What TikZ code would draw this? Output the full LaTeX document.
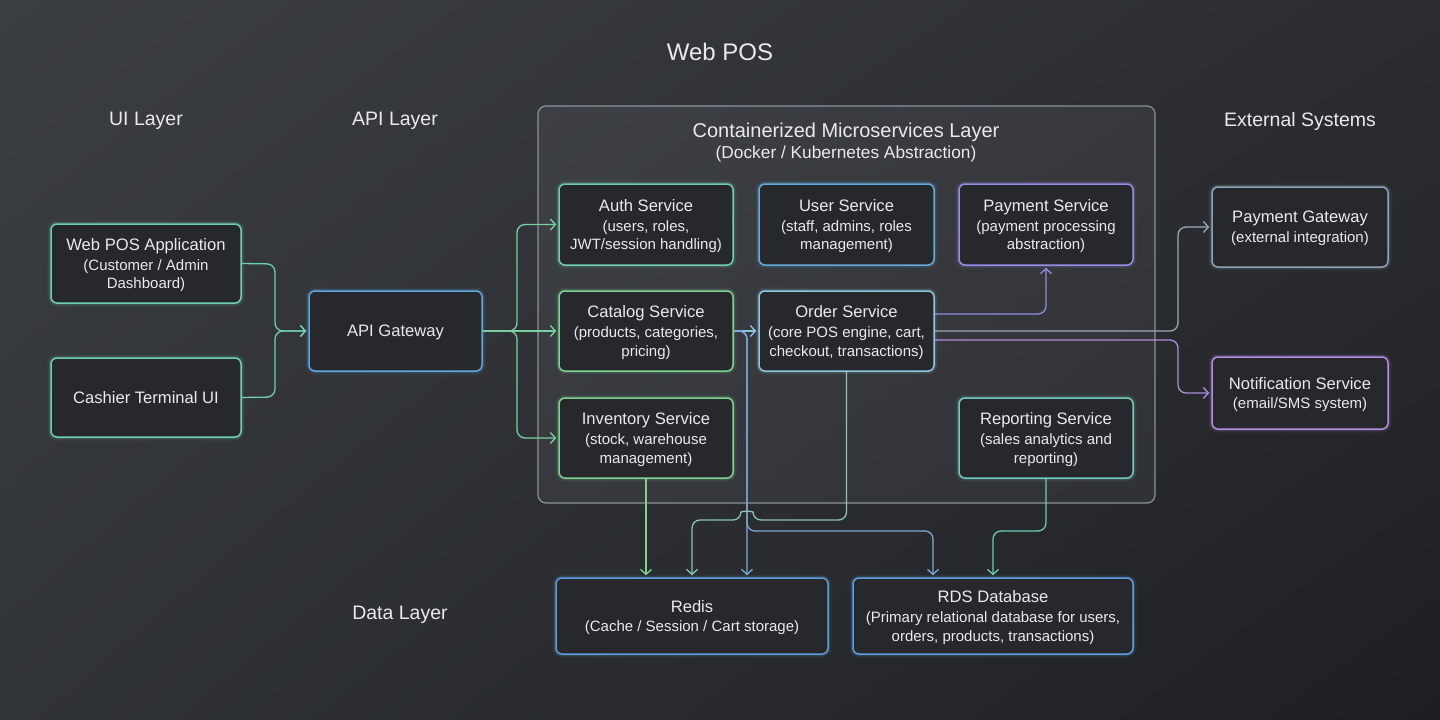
\documentclass[tikz,border=0pt]{standalone}
\usepackage{fontspec}
\setmainfont{Liberation Sans}
\usetikzlibrary{arrows.meta,shadings}
\definecolor{bgA}{HTML}{3B3E43}
\definecolor{bgB}{HTML}{2B2D31}
\definecolor{bgC}{HTML}{303337}
\definecolor{bgD}{HTML}{1E1F22}
\definecolor{boxfill}{HTML}{26282C}
\definecolor{txt}{HTML}{E8EAEC}
\definecolor{cteal}{HTML}{6FCFB5}
\definecolor{cblue}{HTML}{5FA6E0}
\definecolor{cauth}{HTML}{70CDB0}
\definecolor{cuser}{HTML}{66A9DE}
\definecolor{cpay}{HTML}{958EE6}
\definecolor{cgreen}{HTML}{7ED18F}
\definecolor{corder}{HTML}{8EC6DE}
\definecolor{crep}{HTML}{6FCABB}
\definecolor{cgw}{HTML}{8EA3BA}
\definecolor{cnotif}{HTML}{B48DE0}
\definecolor{cdb}{HTML}{5E9EE0}
\definecolor{ccont}{HTML}{8A939C}
\definecolor{lgreen}{HTML}{7ACFA2}
\definecolor{lblue}{HTML}{7FA8D6}
\definecolor{lorder}{HTML}{8CC5B0}
\definecolor{lpay}{HTML}{8E8EDF}
\definecolor{lgw}{HTML}{9AAABB}
\definecolor{lnotif}{HTML}{AE8EDD}
\newcommand{\boxfont}{\fontsize{15}{18.6}\selectfont}
\newcommand{\ttl}[1]{{\fontsize{16.6}{18.6}\selectfont #1}}
\newcommand{\layerfont}{\fontsize{19.5}{23}\selectfont}
\tikzset{
  svc/.style={draw=#1, line width=1.5pt, rounded corners=6pt, fill=boxfill,
    text=txt, align=center, font=\boxfont, inner sep=2pt, text depth=-3.5pt,
    preaction={draw=#1, line width=7pt, draw opacity=0.08},
    preaction={draw=#1, line width=4pt, draw opacity=0.15}},
  layer/.style={text=txt, font=\layerfont},
  flow/.style={draw=#1, line width=1.3pt, rounded corners=8pt,
    -{Straight Barb[length=5pt,width=11pt,line width=1.3pt]}, shorten >=2pt},
}
\begin{document}
\begin{tikzpicture}[x=1pt,y=-1pt]
\useasboundingbox (0,0) rectangle (1440,720);
\shade[upper left=bgA, upper right=bgB, lower left=bgC, lower right=bgD] (0,0) rectangle (1440,720);

% titles
\node[text=txt, font=\fontsize{24}{28}\selectfont] (title) at (720,52) {Web POS};
\node[layer] (lui) at (146,121) {UI Layer};
\node[layer] (lapi) at (395,121) {API Layer};
\node[layer] (lext) at (1300,121) {External Systems};
\node[layer] (ldata) at (400,615) {Data Layer};

% container
\draw[ccont, line width=1.2pt, rounded corners=8pt, fill=white, fill opacity=0.05] (538,106) rectangle (1155,503);
\node[text=txt, font=\fontsize{20}{24}\selectfont] (ctitle) at (846,132) {Containerized Microservices Layer};
\node[text=txt, font=\fontsize{17.3}{20}\selectfont] (csub) at (846,154) {(Docker / Kubernetes Abstraction)};

% nodes
\node[svc=cteal, minimum width=190pt, minimum height=79pt] (web) at (146,263.5) {\ttl{Web POS Application}\\[1pt](Customer / Admin\\Dashboard)};
\node[svc=cteal, minimum width=190pt, minimum height=79pt, text depth=-1pt] (cashier) at (146,397.5) {\ttl{Cashier Terminal UI}};
\node[svc=cblue, minimum width=173pt, minimum height=80pt, text depth=-2pt] (api) at (395.5,331) {\ttl{API Gateway}};

\node[svc=cauth, minimum width=174pt, minimum height=81pt] (auth) at (646,224.5) {\ttl{Auth Service}\\[1pt](users, roles,\\JWT/session handling)};
\node[svc=cuser, minimum width=175pt, minimum height=81pt] (user) at (846.5,224.5) {\ttl{User Service}\\[1pt](staff, admins, roles\\management)};
\node[svc=cpay, minimum width=174pt, minimum height=81pt] (pay) at (1046,224.5) {\ttl{Payment Service}\\[1pt](payment processing\\abstraction)};
\node[svc=cgreen, minimum width=174pt, minimum height=80pt] (catalog) at (646,331) {\ttl{Catalog Service}\\[1pt](products, categories,\\pricing)};
\node[svc=corder, minimum width=175pt, minimum height=80pt] (order) at (846.5,331) {\ttl{Order Service}\\[1pt](core POS engine, cart,\\checkout, transactions)};
\node[svc=cgreen, minimum width=174pt, minimum height=80pt] (inv) at (646,438) {\ttl{Inventory Service}\\[1pt](stock, warehouse\\management)};
\node[svc=crep, minimum width=174pt, minimum height=80pt] (rep) at (1046,438) {\ttl{Reporting Service}\\[1pt](sales analytics and\\reporting)};

\node[svc=cgw, minimum width=176pt, minimum height=80pt] (pgw) at (1300,227) {\ttl{Payment Gateway}\\[1pt](external integration)};
\node[svc=cnotif, minimum width=176pt, minimum height=72pt] (notif) at (1300,393) {\ttl{Notification Service}\\[1pt](email/SMS system)};

\node[svc=cdb, minimum width=272pt, minimum height=76pt] (redis) at (692,616) {\ttl{Redis}\\[1pt](Cache / Session / Cart storage)};
\node[svc=cdb, minimum width=280pt, minimum height=76pt] (rds) at (993,616) {\ttl{RDS Database}\\[1pt](Primary relational database for users,\\orders, products, transactions)};

% UI -> API
\draw[flow=cteal] (web.east) -- (275,264) |- (api.west);
\draw[flow=cteal] (cashier.east) -- (275,397) |- (api.west);

% API -> services
\draw[flow=lgreen] (api.east) -- (517,331) |- (auth.west);
\draw[flow=lgreen] (api.east) -- (catalog.west);
\draw[flow=lgreen] (api.east) -- (517,331) |- (inv.west);

% catalog
\draw[flow=corder] (catalog.east) -- (order.west);
\draw[flow=lblue] (catalog.east) -| (redis.north -| 747,0);
\draw[flow=lblue] (catalog.east) -- (747,331) -- (747,531) -| (rds.north -| 933,0);

% order -> redis (hop over catalog line)
\draw[flow=lorder] (order.south) |- (753,520) .. controls (753,511) and (741,511) .. (741,520) -| (redis.north -| 692,0);

% inventory -> redis
\draw[flow=cgreen] (inv.south) -- (redis.north -| inv.south);

% reporting -> rds
\draw[flow=crep] (rep.south) -- (1046,531) -| (rds.north -| 993,0);

% order -> external / payment
\draw[flow=lpay] (order.east |- 0,314) -| (pay.south);
\draw[flow=lgw] (order.east) -- (1178,331) |- (pgw.west);
\draw[flow=lnotif] (order.east |- 0,340) -- (1178,340) |- (notif.west);
\end{tikzpicture}
\end{document}
